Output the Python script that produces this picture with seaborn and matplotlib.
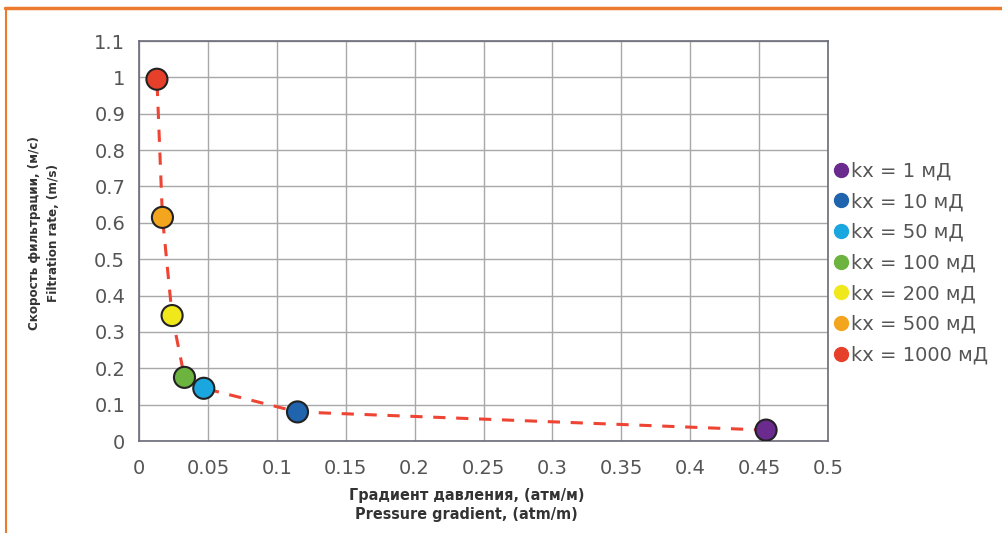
import matplotlib
matplotlib.use("Agg")
import matplotlib.pyplot as plt
from matplotlib.lines import Line2D
import seaborn as sns
import pandas as pd

labels = ["kx = 1 мД", "kx = 10 мД", "kx = 50 мД", "kx = 100 мД",
          "kx = 200 мД", "kx = 500 мД", "kx = 1000 мД"]
gradient = [0.455, 0.115, 0.047, 0.033, 0.024, 0.017, 0.013]
rate = [0.03, 0.08, 0.145, 0.175, 0.345, 0.615, 0.995]
colors = ["#6a2a8e", "#1f64ad", "#1aa7df", "#6cb33f", "#f1e81c", "#f3a51e", "#e7402a"]
xticks = [0, 0.05, 0.1, 0.15, 0.2, 0.25, 0.3, 0.35, 0.4, 0.45, 0.5]
yticks = [0, 0.1, 0.2, 0.3, 0.4, 0.5, 0.6, 0.7, 0.8, 0.9, 1.0, 1.1]

df = pd.DataFrame({"label": labels, "x": gradient, "y": rate})

sns.set_style("white")
plt.rcParams['font.family'] = ['DejaVu Sans']

fig = plt.figure(figsize=(10.03, 5.33), dpi=100)
ax = fig.add_axes([0.1386, 0.1726, 0.687, 0.7504])

sns.lineplot(data=df, x="x", y="y", sort=False, ax=ax, color="#ee4433",
             linestyle=(0, (4, 3.5)), linewidth=2.2, zorder=2)
sns.scatterplot(data=df, x="x", y="y", hue="label", palette=colors, ax=ax,
                s=230, edgecolor="#222222", linewidth=1.5, zorder=3, legend=False)

ax.set_xlim(0, 0.5)
ax.set_ylim(0, 1.1)
ax.set_xticks(xticks)
ax.set_yticks(yticks)
ax.set_xticklabels([f"{v:g}" for v in xticks])
ax.set_yticklabels([f"{v:g}" for v in yticks])
ax.tick_params(axis="both", labelsize=14, colors="#555555", length=0, pad=10)
ax.tick_params(axis="x", pad=13)
ax.grid(True, color="#a8a8a8", linewidth=1)
for sp in ax.spines.values():
    sp.set_color("#6b6b7a")
    sp.set_linewidth(1.2)

ax.set_xlabel("Градиент давления, (атм/м)\nPressure gradient, (atm/m)",
              fontsize=11.5, fontweight="bold", color="#333333",
              fontstretch="condensed", linespacing=1.35)
ax.xaxis.set_label_coords(0.475, -0.118)
ax.set_ylabel("Скорость фильтрации, (м/с)\nFiltration rate, (m/s)",
              fontsize=9.5, fontweight="bold", color="#333333",
              fontstretch="condensed", linespacing=1.6)
ax.yaxis.set_label_coords(-0.115, 0.52)

handles = [Line2D([0], [0], marker="o", linestyle="", markersize=10,
                  markerfacecolor=c, markeredgecolor=c) for c in colors]
leg = ax.legend(handles, labels, loc="center left", bbox_to_anchor=(0.983, 0.445),
                frameon=False, fontsize=14, handletextpad=0.0,
                labelspacing=0.6, borderaxespad=0.3, handlelength=1.1)
for t in leg.get_texts():
    t.set_color("#555555")

# orange frame
fig.add_artist(Line2D([0.005, 1.0], [1 - 8 / 533, 1 - 8 / 533], color="#ec7a2e",
                      linewidth=2.5, transform=fig.transFigure))
fig.add_artist(Line2D([6 / 1003, 6 / 1003], [0, 1 - 8 / 533], color="#ec7a2e",
                      linewidth=1.5, transform=fig.transFigure))

fig.savefig("out.png", dpi=100)
